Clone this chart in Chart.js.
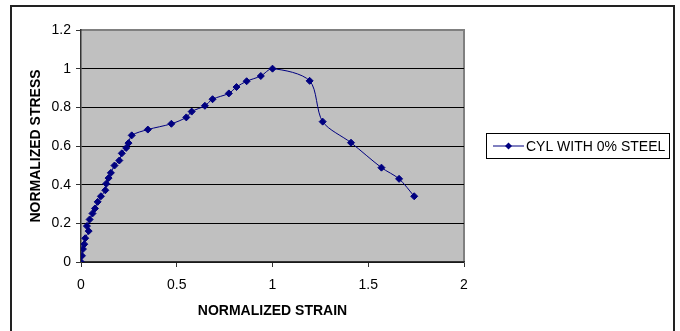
<!DOCTYPE html>
<html>
<head>
<meta charset="utf-8">
<script src="https://cdn.jsdelivr.net/npm/chart.js@4"></script>
<style>
  html, body { margin: 0; padding: 0; background: #fff; }
  #wrap { width: 680px; height: 331px; }
</style>
</head>
<body>
<div id="wrap"><canvas id="stressStrain"></canvas></div>
<script>
// normalized strain / stress readings, cylinder without steel
const strain = [0, 0.005, 0.01, 0.017, 0.022, 0.04, 0.031, 0.045, 0.06, 0.073, 0.087, 0.104, 0.127,
  0.132, 0.144, 0.156, 0.175, 0.2, 0.213, 0.236, 0.248, 0.265, 0.349, 0.472, 0.55, 0.578, 0.647,
  0.687, 0.772, 0.812, 0.865, 0.939, 1.0, 1.194, 1.262, 1.41, 1.569, 1.661, 1.74];
const stress = [0, 0.032, 0.067, 0.092, 0.123, 0.16, 0.186, 0.22, 0.251, 0.277, 0.311, 0.34, 0.371,
  0.405, 0.434, 0.461, 0.499, 0.525, 0.562, 0.59, 0.615, 0.655, 0.685, 0.715, 0.748, 0.778, 0.808,
  0.842, 0.872, 0.905, 0.935, 0.962, 1.0, 0.937, 0.726, 0.617, 0.488, 0.43, 0.34];
const seriesName = 'CYL WITH 0% STEEL';
const xTicks = [0, 0.5, 1, 1.5, 2];
const yTicks = [0, 0.2, 0.4, 0.6, 0.8, 1, 1.2];

const navy = '#000080';
const font = 'Liberation Sans, Arial, sans-serif';

const points = strain.map((x, i) => ({ x: x, y: stress[i] }));

// grey plot area, frame round the whole chart, and the boxed legend
const decor = {
  id: 'decor',
  beforeDraw(chart) {
    const ctx = chart.ctx;
    const a = chart.chartArea;
    ctx.save();
    ctx.fillStyle = '#fff';
    ctx.fillRect(0, 0, chart.width, chart.height);
    ctx.strokeStyle = '#222';
    ctx.lineWidth = 2;
    ctx.strokeRect(11, 6, 663, 340);
    ctx.fillStyle = '#c0c0c0';
    ctx.fillRect(a.left, a.top, a.right - a.left, a.bottom - a.top);
    ctx.strokeStyle = '#808080';
    ctx.lineWidth = 2;
    ctx.beginPath();
    ctx.moveTo(a.left, a.top);
    ctx.lineTo(a.right, a.top);
    ctx.lineTo(a.right, a.bottom);
    ctx.stroke();
    ctx.restore();
  },
  afterDraw(chart) {
    const ctx = chart.ctx;
    ctx.save();
    ctx.strokeStyle = '#000';
    ctx.lineWidth = 1;
    ctx.strokeRect(486.5, 133.5, 183, 25);
    const ly = 146;
    ctx.strokeStyle = navy;
    ctx.lineWidth = 1;
    ctx.beginPath();
    ctx.moveTo(493, ly);
    ctx.lineTo(524, ly);
    ctx.stroke();
    ctx.fillStyle = navy;
    ctx.beginPath();
    ctx.moveTo(508.5, ly - 3.5);
    ctx.lineTo(512, ly);
    ctx.lineTo(508.5, ly + 3.5);
    ctx.lineTo(505, ly);
    ctx.closePath();
    ctx.fill();
    ctx.fillStyle = '#000';
    ctx.font = '14px ' + font;
    ctx.textBaseline = 'middle';
    ctx.fillText(seriesName, 526, ly + 1);
    ctx.restore();
  }
};

new Chart(document.getElementById('stressStrain'), {
  type: 'scatter',
  data: {
    datasets: [{
      label: seriesName,
      data: points,
      showLine: true,
      borderColor: navy,
      borderWidth: 1,
      tension: 0.3,
      pointStyle: 'rectRot',
      pointRadius: 3.5,
      pointBackgroundColor: navy,
      pointBorderColor: navy,
      pointBorderWidth: 1
    }]
  },
  options: {
    responsive: true,
    maintainAspectRatio: false,
    animation: false,
    layout: { padding: { left: 0, top: 30, right: 216, bottom: 0 } },
    plugins: {
      legend: { display: false },
      tooltip: { enabled: false }
    },
    scales: {
      x: {
        type: 'linear',
        min: 0,
        max: 2,
        afterBuildTicks: (s) => { s.ticks = xTicks.map(v => ({ value: v })); },
        afterFit: (s) => { s.height = 69; },
        ticks: {
          color: '#000',
          font: { family: font, size: 14 },
          padding: 10,
          maxRotation: 0,
          callback: (v) => String(v)
        },
        grid: {
          drawOnChartArea: false,
          tickLength: 5,
          tickColor: '#333'
        },
        border: { color: '#333', width: 1.5 },
        title: {
          display: true,
          text: 'NORMALIZED STRAIN',
          color: '#000',
          font: { family: font, size: 14, weight: 'bold' },
          padding: { top: 11, bottom: 11 }
        }
      },
      y: {
        type: 'linear',
        min: 0,
        max: 1.2,
        afterBuildTicks: (s) => { s.ticks = yTicks.map(v => ({ value: v })); },
        afterFit: (s) => { s.width = 81; },
        ticks: {
          color: '#000',
          font: { family: font, size: 14 },
          padding: 5,
          callback: (v) => String(v)
        },
        grid: {
          color: (c) => c.tick && c.tick.value === 1.2 ? 'rgba(0,0,0,0)' : '#000',
          tickLength: 5,
          tickColor: '#333'
        },
        border: { color: '#333', width: 1.5 },
        title: {
          display: true,
          text: 'NORMALIZED STRESS',
          color: '#000',
          font: { family: font, size: 14, weight: 'bold' },
          padding: { top: 28, bottom: 0 }
        }
      }
    }
  },
  plugins: [decor]
});
</script>
</body>
</html>
